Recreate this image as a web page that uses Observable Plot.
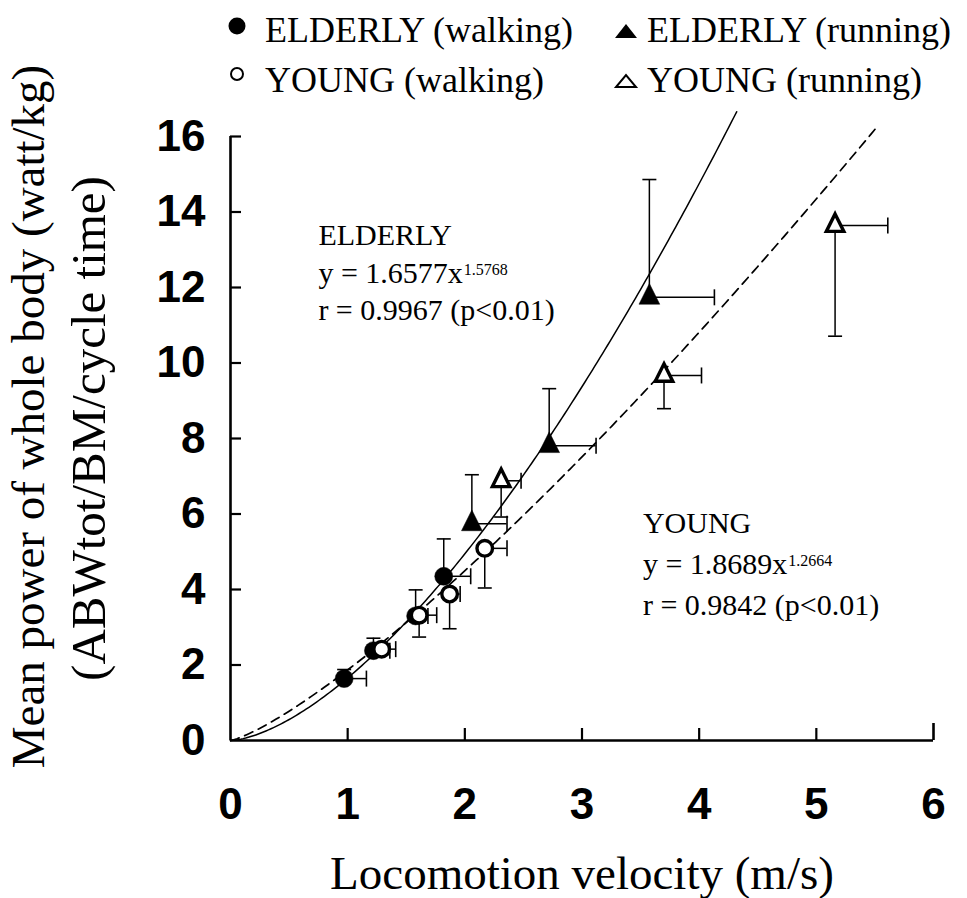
<!DOCTYPE html>
<html>
<head>
<meta charset="utf-8">
<script src="https://cdn.jsdelivr.net/npm/d3@7"></script>
<script src="https://cdn.jsdelivr.net/npm/@observablehq/plot@0.6"></script>
<style>
  body { margin: 0; background: #fff; }
  #wrap { position: relative; width: 967px; }
  #legend { position: relative; height: 110px; font-family: "Liberation Serif", "Times New Roman", serif; font-size: 36px; color: #000; }
  #legend .item { position: absolute; line-height: 36px; white-space: nowrap; }
  #legend svg { position: absolute; left: 0; top: 0; }
</style>
</head>
<body>
<div id="wrap">
  <div id="legend"></div>
  <div id="chart"></div>
</div>
<script>
// ---------- data ----------
// ELDERLY walking
const elderlyWalkV    = [0.97, 1.22, 1.58, 1.82];
const elderlyWalkP    = [1.64, 2.38, 3.30, 4.35];
const elderlyWalkPErr = [1.88, 2.71, 3.99, 5.34];   // upper end of SD bar
const elderlyWalkVErr = [1.16, 1.36, 1.685, 2.05];  // right end of SD bar
// YOUNG walking
const youngWalkV    = [1.29, 1.61, 1.87, 2.17];
const youngWalkP    = [2.42, 3.32, 3.88, 5.09];
const youngWalkPErr = [2.28, 2.74, 2.96, 4.04];     // lower end of SD bar
const youngWalkVErr = [1.41, 1.76, 1.96, 2.36];
// ELDERLY running
const elderlyRunV    = [2.06, 2.72, 3.575];
const elderlyRunP    = [5.74, 7.81, 11.74];
const elderlyRunPErr = [7.04, 9.32, 14.86];
const elderlyRunVErr = [2.36, 3.12, 4.13];
// YOUNG running
const youngRunV    = [2.31, 3.70, 5.16];
const youngRunP    = [6.88, 9.67, 13.64];
const youngRunPErr = [5.92, 8.79, 10.71];
const youngRunVErr = [2.48, 4.02, 5.61];

// regression equations printed on the chart
const elderlyFit = {a: 1.6577, b: 1.5768, vMax: 4.32};
const youngFit   = {a: 1.8689, b: 1.2664, vMax: 5.52};

const xTicks = [0, 1, 2, 3, 4, 5, 6];
const yTicks = [0, 2, 4, 6, 8, 10, 12, 14, 16];

const legendLabels = ["ELDERLY (walking)", "ELDERLY (running)", "YOUNG (walking)", "YOUNG (running)"];
const xTitle = "Locomotion velocity (m/s)";
const yTitle1 = "Mean power of whole body (watt/kg)";
const yTitle2 = "(ABWtot/BM/cycle time)";
const elderlyNote = "ELDERLY\ny = 1.6577x^1.5768\nr = 0.9967 (p<0.01)";
const youngNote = "YOUNG\ny = 1.8689x^1.2664\nr = 0.9842 (p<0.01)";
// annotation anchors in data units (velocity, power)
const elderlyNoteAt = {v: 0.75, p: 13.82};
const youngNoteAt = {v: 3.52, p: 6.28};

// ---------- build tables ----------
function rows(V, P, PE, VE, group, gait) {
  return V.map((v, i) => ({v, p: P[i], pErr: PE[i], vErr: VE[i], group, gait}));
}
const ew = rows(elderlyWalkV, elderlyWalkP, elderlyWalkPErr, elderlyWalkVErr, "ELDERLY", "walking");
const yw = rows(youngWalkV, youngWalkP, youngWalkPErr, youngWalkVErr, "YOUNG", "walking");
const er = rows(elderlyRunV, elderlyRunP, elderlyRunPErr, elderlyRunVErr, "ELDERLY", "running");
const yr = rows(youngRunV, youngRunP, youngRunPErr, youngRunVErr, "YOUNG", "running");
const all = [...ew, ...er, ...yw, ...yr];

function curve(fit) {
  const n = 200;
  return d3.range(n + 1).map(i => {
    const v = fit.vMax * i / n;
    return {v, p: fit.a * Math.pow(v, fit.b)};
  });
}

// custom symbols
const hcap = {draw(ctx, size) { const r = Math.sqrt(size / Math.PI); ctx.moveTo(-r, 0); ctx.lineTo(r, 0); }};
const vcap = {draw(ctx, size) { const r = Math.sqrt(size / Math.PI); ctx.moveTo(0, -r); ctx.lineTo(0, r); }};
const tri = {draw(ctx, size) {
  const r = Math.sqrt(size / Math.PI);
  const w = r * 1.25, h = r * 2.5;
  ctx.moveTo(0, -2 * h / 3); ctx.lineTo(w, h / 3); ctx.lineTo(-w, h / 3); ctx.closePath();
}};

const W = 967, H = 788, mL = 230, mR = 34, mT = 26, mB = 158;
const frameW = W - mL - mR, frameH = H - mT - mB;
const serif = "'Liberation Serif','Times New Roman',serif";

const chart = Plot.plot({
  width: W, height: H,
  marginLeft: mL, marginRight: mR, marginTop: mT, marginBottom: mB,
  style: {fontFamily: "'Liberation Sans Narrow','Liberation Sans',Arial,sans-serif", fontSize: "44px", fontWeight: "bold", overflow: "visible", color: "black", background: "transparent"},
  x: {domain: [0, 6], ticks: xTicks, tickSize: 0, tickPadding: 47, label: null, tickFormat: d3.format("d")},
  y: {domain: [0, 16], ticks: yTicks, tickSize: 0, tickPadding: 25, label: null, tickFormat: d3.format("d")},
  marks: [
    // inward ticks
    Plot.tickX(xTicks.filter(d => d > 0 && d < 6), {x: d => d, insetTop: frameH - 12, strokeWidth: 2.2}),
    Plot.tickX(xTicks.filter(d => d === 6), {x: d => d, insetTop: frameH - 17, strokeWidth: 2.6}),
    Plot.tickY(yTicks.filter(d => d > 0), {y: d => d, insetRight: frameW - 11, strokeWidth: 2.2}),
    // axis lines
    Plot.ruleX([0], {strokeWidth: 2.6}),
    Plot.ruleY([0], {strokeWidth: 2.6}),
    // fitted curves
    Plot.line(curve(elderlyFit), {x: "v", y: "p", stroke: "black", strokeWidth: 1.5}),
    Plot.line(curve(youngFit), {x: "v", y: "p", stroke: "black", strokeWidth: 1.7, strokeDasharray: "9,6"}),
    // SD bars
    Plot.ruleX(all, {x: "v", y1: "p", y2: "pErr", stroke: "black", strokeWidth: 1.5}),
    Plot.ruleY(all, {y: "p", x1: "v", x2: "vErr", stroke: "black", strokeWidth: 1.5}),
    Plot.dot(all, {x: "v", y: "pErr", symbol: hcap, r: 7, stroke: "black", strokeWidth: 1.6}),
    Plot.dot(all, {x: "vErr", y: "p", symbol: vcap, r: 8, stroke: "black", strokeWidth: 1.6}),
    // points
    Plot.dot(ew, {x: "v", y: "p", r: 9, fill: "black", stroke: "black", strokeWidth: 0.5}),
    Plot.dot(er, {x: "v", y: "p", r: 8.3, symbol: tri, fill: "black", stroke: "black", strokeWidth: 0.5}),
    Plot.dot(yw, {x: "v", y: "p", r: 7.8, fill: "white", stroke: "black", strokeWidth: 3.4}),
    Plot.dot(yr, {x: "v", y: "p", r: 7, symbol: tri, fill: "white", stroke: "black", strokeWidth: 3.4, strokeLinejoin: "miter"}),
    // annotations
    Plot.text([elderlyNote], {x: () => elderlyNoteAt.v, y: () => elderlyNoteAt.p, text: d => d, textAnchor: "start", lineAnchor: "top", lineHeight: 1.25, fontSize: 30, fontFamily: serif, fontWeight: "normal", fill: "black"}),
    Plot.text([youngNote], {x: () => youngNoteAt.v, y: () => youngNoteAt.p, text: d => d, textAnchor: "start", lineAnchor: "top", lineHeight: 1.37, fontSize: 30, fontFamily: serif, fontWeight: "normal", fill: "black"}),
    // axis titles
    Plot.text([xTitle], {frameAnchor: "bottom", dy: 115, textAnchor: "middle", lineAnchor: "top", text: d => d, fontSize: 47, fontFamily: serif, fontWeight: "normal", fill: "black"}),
    Plot.text([yTitle1], {frameAnchor: "left", rotate: -90, dx: -202, dy: -22, textAnchor: "middle", lineAnchor: "middle", text: d => d, fontSize: 47, fontFamily: serif, fontWeight: "normal", fill: "black"}),
    Plot.text([yTitle2], {frameAnchor: "left", rotate: -90, dx: -141, dy: -10, textAnchor: "middle", lineAnchor: "middle", text: d => d, fontSize: 49, fontFamily: serif, fontWeight: "normal", fill: "black"})
  ]
});

// superscripts for the exponents
d3.select(chart).selectAll("text, tspan").each(function () {
  if (this.childElementCount === 0 && this.textContent.includes("^")) {
    const [base, sup] = this.textContent.split("^");
    this.textContent = base;
    const t = document.createElementNS("http://www.w3.org/2000/svg", "tspan");
    t.setAttribute("font-size", "16");
    t.setAttribute("dx", "1");
    t.setAttribute("style", "baseline-shift: 8px");
    t.textContent = sup;
    this.appendChild(t);
  }
});
document.getElementById("chart").appendChild(chart);

// ---------- legend (HTML, above the plot) ----------
const legend = d3.select("#legend");
const sym = legend.append("svg").attr("width", 967).attr("height", 110);
sym.append("circle").attr("cx", 237).attr("cy", 26).attr("r", 8.5).attr("fill", "black");
sym.append("circle").attr("cx", 237).attr("cy", 74).attr("r", 6).attr("fill", "white").attr("stroke", "black").attr("stroke-width", 2);
sym.append("path").attr("d", "M615,38L637,38L626,24Z").attr("fill", "black");
sym.append("path").attr("d", "M616,87L636,87L626,75Z").attr("fill", "white").attr("stroke", "black").attr("stroke-width", 2);
const pos = [[265, 12], [647, 12], [265, 62], [647, 62]];
legendLabels.forEach((t, i) => {
  legend.append("div").attr("class", "item").style("left", pos[i][0] + "px").style("top", pos[i][1] + "px").text(t);
});
</script>
</body>
</html>
